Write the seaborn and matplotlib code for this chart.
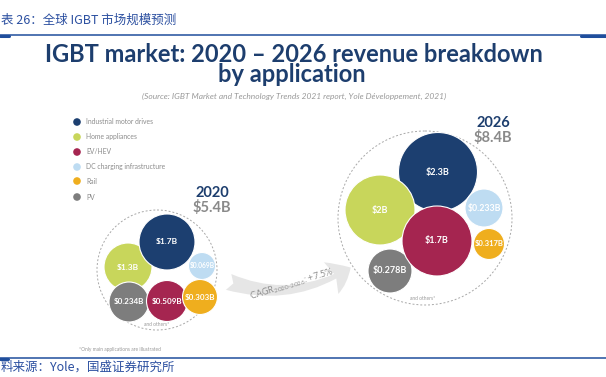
"""
IGBT market 2020 - 2026 revenue breakdown by application, bubble chart
"""

import numpy as np
import pandas as pd
import seaborn as sns
import matplotlib
matplotlib.use('Agg')
from matplotlib import pyplot as plt
from matplotlib.patches import Circle, FancyArrowPatch

sns.set_theme(style='white')
plt.rcParams['font.family'] = ['Lato', 'Noto Sans CJK SC', 'DejaVu Sans']
plt.rcParams['mathtext.fontset'] = 'custom'
plt.rcParams['mathtext.rm'] = 'Lato'
plt.rcParams['mathtext.it'] = 'Lato:italic'

#------------------------------------------------------------------------------
# Data (billion USD)
#------------------------------------------------------------------------------
applications = ['Industrial motor drives', 'Home appliances', 'EV/HEV',
                'DC charging infrastructure', 'Rail', 'PV']
revenue_2020 = [1.7, 1.3, 0.509, 0.069, 0.303, 0.234]
revenue_2026 = [2.3, 2.0, 1.7, 0.233, 0.317, 0.278]
total_2020 = 5.4
total_2026 = 8.4
cagr = 7.5

#------------------------------------------------------------------------------
# Layout (pixel space of a 606x377 canvas), hand placed like the original
#------------------------------------------------------------------------------
colors = {'Industrial motor drives': '#1c3f70', 'Home appliances': '#c8d65b',
          'EV/HEV': '#a52550', 'DC charging infrastructure': '#bedcf2',
          'Rail': '#efae1e', 'PV': '#7d7d7d'}

pos_2020 = [(167, 242), (128, 267), (167, 301), (202, 266), (200, 297), (129, 302)]
diam_2020 = [56, 48, 41, 27, 35, 40]
font_2020 = [6, 6, 5.8, 4.8, 5.8, 5.8]
order_2020 = [1, 0, 3, 5, 2, 4]

pos_2026 = [(438, 172), (380, 210), (437, 241), (484, 208), (489, 244), (390, 271)]
diam_2026 = [79, 70, 70, 38, 31, 44]
font_2026 = [6.5, 6.5, 6.5, 6.3, 5.5, 6.5]
order_2026 = [0, 1, 3, 4, 5, 2]

navy = '#1d3e6e'
blue = '#1f4e9c'
grey_txt = '#8c8c8c'

rows = []
for year, vals, pos, diam, order in [(2020, revenue_2020, pos_2020, diam_2020, order_2020),
                                     (2026, revenue_2026, pos_2026, diam_2026, order_2026)]:
    for i in order:
        rows.append({'year': year, 'app': applications[i], 'value': vals[i],
                     'x': pos[i][0], 'y': pos[i][1], 'area': diam[i] ** 2})
df = pd.DataFrame(rows)

#------------------------------------------------------------------------------
# Plot figure
#------------------------------------------------------------------------------
fig = plt.figure(figsize=(6.06, 3.77), dpi=100)
ax = fig.add_axes([0, 0, 1, 1])
ax.set_xlim(0, 606)
ax.set_ylim(377, 0)
ax.axis('off')

# dashed envelopes
ax.add_patch(Circle((157, 270), 60, fill=False, ec='#a8a8a8', lw=0.7, ls=(0, (2, 2))))
ax.add_patch(Circle((425, 218), 87, fill=False, ec='#a8a8a8', lw=0.7, ls=(0, (2, 2))))

# CAGR arrow
ax.add_patch(FancyArrowPatch((226, 281), (353, 266), connectionstyle='arc3,rad=0.25',
                             arrowstyle='fancy,head_length=1.6,head_width=2.5,tail_width=1.2',
                             mutation_scale=10, color='#e6e6e6', lw=0, zorder=1))
ax.text(292, 284, r'CAGR$_{\mathrm{2020\text{-}2026}}$: +' + f'{cagr:g}%',
        rotation=17, rotation_mode='anchor', ha='center', va='center',
        color='#8f8f8f', fontsize=6.5, zorder=3)

# bubbles, px diameter -> marker area in pt^2
k = (72 / 100) ** 2
sns.scatterplot(data=df, x='x', y='y', hue='app', palette=colors, size='area',
                sizes=(0, k * 10000), size_norm=(0, 10000),
                edgecolor='white', linewidth=0.8, legend=False, ax=ax, zorder=2)

for vals, pos, fs in [(revenue_2020, pos_2020, font_2020), (revenue_2026, pos_2026, font_2026)]:
    for v, (x, y), f in zip(vals, pos, fs):
        ax.text(x, y, f'${v:g}B', ha='center', va='center', color='white',
                fontsize=f, fontweight='bold', zorder=4)

ax.text(157, 325, 'and others*', ha='center', va='center', fontsize=3.5, color='#999999')
ax.text(423, 298, 'and others*', ha='center', va='center', fontsize=3.5, color='#999999')
ax.text(120, 350, '*Only main applications are illustrated', ha='center', va='center',
        fontsize=3.5, color='#999999')

# year headers
ax.text(212, 193, '2020', ha='center', va='center', fontsize=10.5, fontweight='bold', color=navy)
ax.text(212, 207, f'${total_2020:g}B', ha='center', va='center', fontsize=10.5,
        fontweight='bold', color='#8a8a8a')
ax.text(493, 123, '2026', ha='center', va='center', fontsize=10.5, fontweight='bold', color=navy)
ax.text(493, 137, f'${total_2026:g}B', ha='center', va='center', fontsize=10.5,
        fontweight='bold', color='#8a8a8a')

# legend
leg = pd.DataFrame({'app': applications, 'x': [77] * 6,
                    'y': [122, 137, 152, 167, 181, 197]})
sns.scatterplot(data=leg, x='x', y='y', hue='app', palette=colors, s=30,
                linewidth=0, legend=False, ax=ax)
for app, y in zip(leg['app'], leg['y']):
    ax.text(86, y, app, ha='left', va='center', fontsize=4.9, color=grey_txt)

# titles
ax.text(294, 54, 'IGBT market: 2020 \u2013 2026 revenue breakdown', ha='center', va='center',
        fontsize=17, fontweight='bold', color=navy)
ax.text(292, 75, 'by application', ha='center', va='center',
        fontsize=17, fontweight='bold', color=navy)
ax.text(294, 96, '(Source: IGBT Market and Technology Trends 2021 report, Yole D\u00e9veloppement, 2021)',
        ha='center', va='center', fontsize=6, style='italic', color='#999999')

# report frame
ax.plot([0, 606], [35, 35], color=blue, lw=1.1)
ax.plot([0, 9], [36, 36], color=blue, lw=2.2)
ax.plot([581, 606], [36, 36], color=blue, lw=2.2)
ax.plot([0, 606], [357.5, 357.5], color=blue, lw=1.1)
ax.plot([0, 8], [358.5, 358.5], color=blue, lw=2.2)
ax.text(1, 20, '表 26：全球 IGBT 市场规模预测', ha='left', va='center', fontsize=9,
        color='#2b4fa0', family=['Noto Sans CJK SC', 'DejaVu Sans'])
ax.text(1, 367, '料来源：Yole，国盛证券研究所', ha='left', va='center', fontsize=9,
        color='#2b4fa0', family=['Noto Sans CJK SC', 'DejaVu Sans'])

#------------------------------------------------------------------------------
# Save figure
#------------------------------------------------------------------------------
plt.savefig('out.png', dpi=100)
